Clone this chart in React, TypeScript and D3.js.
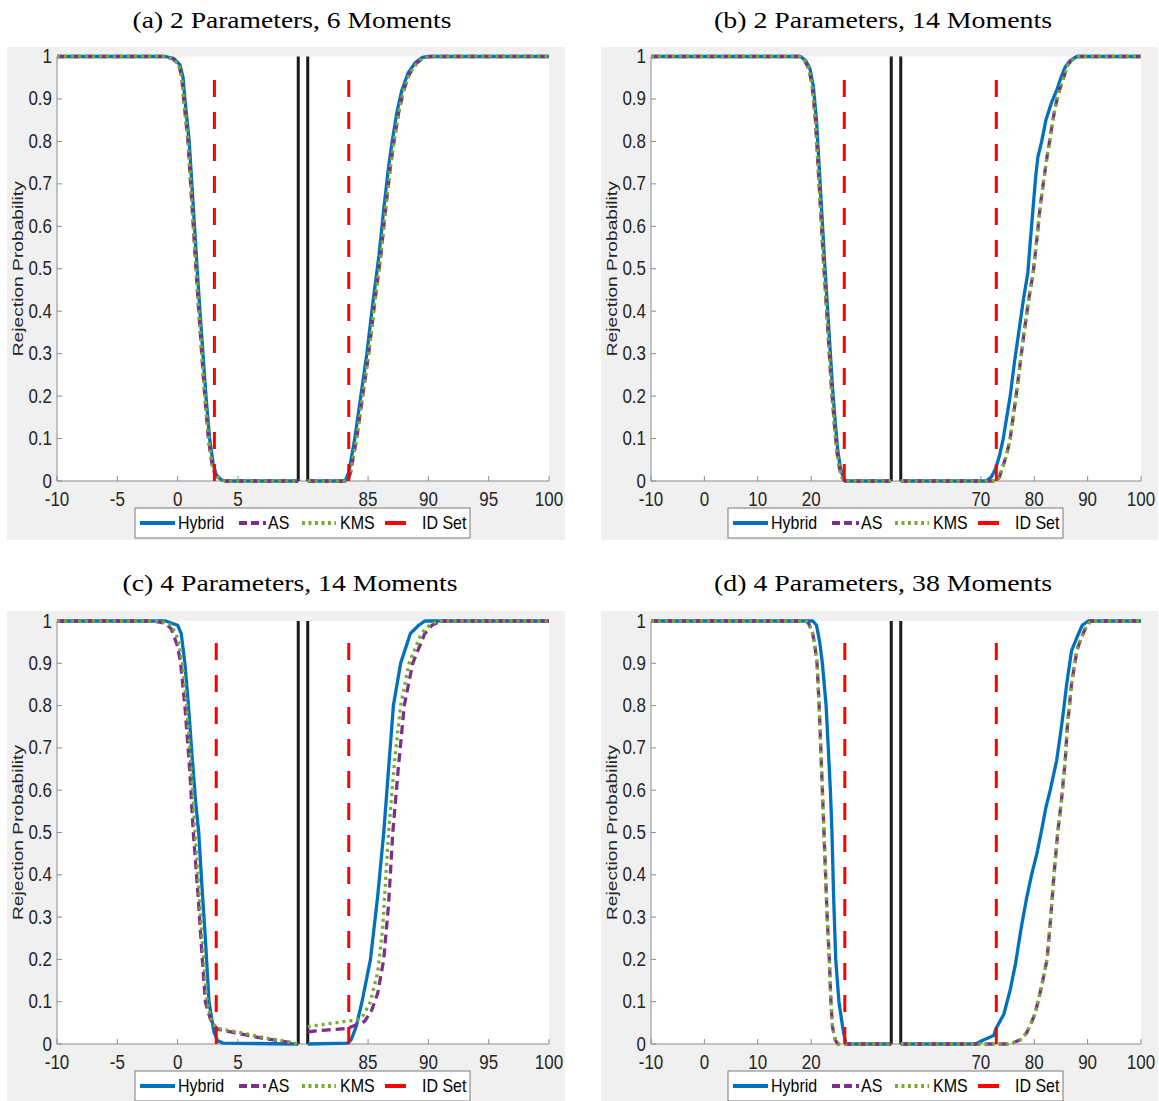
import React from 'react';
import * as d3 from 'd3';

type Pt = [number, number];

// ---------- text ----------
const TITLES = [
  '(a) 2 Parameters, 6 Moments',
  '(b) 2 Parameters, 14 Moments',
  '(c) 4 Parameters, 14 Moments',
  '(d) 4 Parameters, 38 Moments',
];
const Y_LABEL = 'Rejection Probability';
const SERIES_NAMES = ['Hybrid', 'AS', 'KMS', 'ID Set'];
const Y_TICKS = [0, 0.1, 0.2, 0.3, 0.4, 0.5, 0.6, 0.7, 0.8, 0.9, 1];

// ---------- broken x axes ----------
const DOMAIN_SMALL_LEFT: Pt = [-10, 10];
const DOMAIN_SMALL_RIGHT: Pt = [80, 100];
const TICKS_SMALL_LEFT = [-10, -5, 0, 5];
const TICKS_SMALL_RIGHT = [85, 90, 95, 100];

const DOMAIN_LARGE_LEFT: Pt = [-10, 35];
const DOMAIN_LARGE_RIGHT: Pt = [55, 100];
const TICKS_LARGE_LEFT = [-10, 0, 10, 20];
const TICKS_LARGE_RIGHT = [70, 80, 90, 100];

// ---------- identified set bounds ----------
const A_ID_SET = [3.05, 83.4];
const B_ID_SET = [26.2, 72.9];
const C_ID_SET = [3.2, 83.4];
const D_ID_SET = [26.3, 72.9];

// ---------- (a) 2 parameters, 6 moments ----------
const A_HYBRID: Pt[] = [[-10,1],[-1,1],[-0.3,0.995],[0.2,0.98],[0.45,0.95],[0.6,0.9],[0.96,0.8],[1.18,0.7],[1.4,0.6],[1.62,0.5],[1.85,0.4],[2.1,0.3],[2.35,0.2],[2.65,0.1],[2.95,0.04],[3.2,0.015],[3.6,0.003],[4,0],[10,0],
  [80,0],[83.1,0],[83.4,0.02],[83.9,0.1],[84.4,0.2],[84.9,0.3],[85.4,0.42],[85.9,0.53],[86.3,0.64],[86.7,0.74],[87.0,0.8],[87.4,0.87],[87.8,0.92],[88.3,0.96],[88.9,0.985],[89.5,0.998],[90,1],[100,1]];
const A_AS: Pt[] = [[-10,1],[-1.2,1],[-0.4,0.995],[0.1,0.98],[0.35,0.95],[0.5,0.9],[0.86,0.8],[1.08,0.7],[1.3,0.6],[1.52,0.5],[1.75,0.4],[2.0,0.3],[2.25,0.2],[2.55,0.1],[2.85,0.04],[3.1,0.015],[3.5,0.003],[4,0],[10,0],
  [80,0],[83.3,0],[83.55,0.02],[84.05,0.1],[84.55,0.2],[85.05,0.3],[85.55,0.42],[86.05,0.53],[86.45,0.64],[86.85,0.74],[87.15,0.8],[87.55,0.87],[87.95,0.92],[88.45,0.96],[89.05,0.985],[89.65,0.998],[90.2,1],[100,1]];
const A_KMS: Pt[] = [[-10,1],[-1.2,1],[-0.4,0.995],[0.1,0.98],[0.35,0.95],[0.5,0.9],[0.87,0.8],[1.09,0.7],[1.31,0.6],[1.53,0.5],[1.76,0.4],[2.01,0.3],[2.26,0.2],[2.56,0.1],[2.86,0.04],[3.1,0.015],[3.5,0.003],[4,0],[10,0],
  [80,0],[83.3,0],[83.55,0.02],[84.05,0.1],[84.55,0.2],[85.05,0.3],[85.55,0.42],[86.05,0.53],[86.45,0.64],[86.85,0.74],[87.15,0.8],[87.55,0.87],[87.95,0.92],[88.45,0.96],[89.05,0.985],[89.65,0.998],[90.2,1],[100,1]];

// ---------- (b) 2 parameters, 14 moments ----------
const B_HYBRID: Pt[] = [[-10,1],[18,1],[19,0.99],[19.8,0.97],[20.4,0.93],[21,0.85],[21.5,0.74],[22,0.63],[22.5,0.52],[23,0.42],[23.5,0.32],[24,0.22],[24.5,0.14],[25,0.07],[25.5,0.03],[26,0.008],[26.5,0],[35,0],
  [55,0],[71,0],[72,0.01],[72.8,0.03],[73.5,0.06],[74.2,0.1],[75.5,0.2],[76.3,0.28],[77.1,0.35],[78,0.43],[78.8,0.49],[79.3,0.57],[79.8,0.646],[80.3,0.72],[80.7,0.764],[81.4,0.8],[82.2,0.851],[83.2,0.89],[84.2,0.92],[85,0.95],[85.8,0.975],[86.7,0.99],[88,1],[100,1]];
const B_AS: Pt[] = [[-10,1],[17.8,1],[18.8,0.99],[19.6,0.97],[20.2,0.93],[20.8,0.85],[21.3,0.74],[21.8,0.63],[22.3,0.52],[22.8,0.42],[23.3,0.32],[23.8,0.22],[24.3,0.14],[24.8,0.07],[25.3,0.03],[25.8,0.008],[26.3,0],[35,0],
  [55,0],[73,0],[73.5,0.01],[74,0.03],[74.8,0.06],[75.5,0.1],[76.6,0.2],[77.3,0.27],[78.1,0.35],[79,0.43],[79.8,0.49],[80.5,0.57],[81.1,0.646],[81.8,0.71],[82.4,0.764],[83,0.81],[83.5,0.851],[84.1,0.89],[84.7,0.92],[85.5,0.95],[86.3,0.98],[86.9,0.99],[88,1],[100,1]];
const B_KMS: Pt[] = [[-10,1],[17.8,1],[18.8,0.99],[19.6,0.97],[20.2,0.93],[20.8,0.85],[21.3,0.74],[21.8,0.63],[22.3,0.52],[22.8,0.42],[23.3,0.32],[23.8,0.22],[24.3,0.14],[24.8,0.07],[25.3,0.03],[25.8,0.008],[26.3,0],[35,0],
  [55,0],[73,0],[73.5,0.01],[74,0.03],[74.8,0.06],[75.5,0.1],[76.6,0.2],[77.3,0.27],[78.1,0.35],[79,0.43],[79.8,0.49],[80.5,0.57],[81.1,0.646],[81.8,0.71],[82.4,0.764],[83,0.81],[83.5,0.851],[84.1,0.89],[84.7,0.92],[85.5,0.95],[86.3,0.98],[86.9,0.99],[88,1],[100,1]];

// ---------- (c) 4 parameters, 14 moments ----------
const C_HYBRID: Pt[] = [[-10,1],[-1,1],[0,0.99],[0.3,0.97],[0.6,0.9],[0.9,0.8],[1.2,0.68],[1.5,0.57],[1.75,0.5],[2.0,0.38],[2.3,0.25],[2.6,0.1],[3.0,0.03],[3.3,0.008],[3.8,0.002],[10,0],
  [80,0],[83.3,0.002],[83.6,0.01],[84.0,0.04],[84.5,0.1],[85.2,0.2],[85.8,0.35],[86.3,0.5],[86.7,0.65],[87.1,0.8],[87.7,0.9],[88.5,0.97],[89.2,0.99],[89.7,1],[100,1]];
const C_AS: Pt[] = [[-10,1],[-2,1],[-1,0.995],[-0.5,0.98],[0,0.94],[0.25,0.9],[0.6,0.8],[1.0,0.65],[1.3,0.5],[1.7,0.35],[2.0,0.22],[2.3,0.1],[2.7,0.06],[3.0,0.045],[3.3,0.035],[5,0.025],[7,0.014],[9,0.005],[10,0],
  [80,0.029],[81.5,0.033],[83.3,0.037],[84,0.045],[84.7,0.053],[85.3,0.08],[85.8,0.12],[86.3,0.2],[86.7,0.33],[87.05,0.5],[87.5,0.65],[88,0.8],[88.7,0.9],[89.7,0.97],[90.3,0.99],[91,1],[100,1]];
const C_KMS: Pt[] = [[-10,1],[-1.5,1],[-0.5,0.99],[0,0.96],[0.4,0.9],[0.75,0.8],[1.1,0.66],[1.45,0.5],[1.8,0.35],[2.1,0.22],[2.45,0.1],[2.8,0.055],[3.1,0.042],[3.3,0.037],[5,0.028],[7,0.016],[9,0.006],[10,0],
  [80,0.041],[82,0.049],[84.1,0.057],[84.6,0.068],[85.2,0.1],[85.8,0.17],[86.2,0.27],[86.7,0.5],[87.2,0.67],[87.7,0.8],[88.4,0.9],[89.4,0.97],[90.1,0.99],[90.8,1],[100,1]];

// ---------- (d) 4 parameters, 38 moments ----------
const D_HYBRID: Pt[] = [[-10,1],[20.3,1],[21,0.99],[21.6,0.95],[22.1,0.9],[22.8,0.8],[23.2,0.7],[23.6,0.6],[23.9,0.5],[24.2,0.35],[24.6,0.2],[25.2,0.1],[25.9,0.04],[26.5,0],[35,0],
  [55,0],[69,0],[70.6,0.01],[72.4,0.02],[72.9,0.038],[74.3,0.07],[75.5,0.128],[76.5,0.19],[77.5,0.27],[78.5,0.34],[79.5,0.4],[80.5,0.45],[81.3,0.5],[82.2,0.56],[83,0.6],[84.2,0.67],[85.1,0.75],[85.6,0.8],[86.1,0.853],[87,0.93],[88.3,0.97],[89,0.99],[90.1,1],[100,1]];
const D_AS: Pt[] = [[-10,1],[19,1],[19.5,0.995],[20.3,0.97],[20.7,0.94],[21.1,0.9],[21.5,0.8],[21.8,0.7],[22.1,0.6],[22.4,0.5],[22.7,0.4],[23,0.3],[23.4,0.2],[23.7,0.1],[24,0.04],[24.5,0.01],[25,0],[35,0],
  [55,0],[75.5,0],[77.4,0.01],[78.5,0.025],[79.3,0.045],[80.1,0.07],[80.8,0.104],[81.6,0.15],[82.4,0.2],[83.1,0.3],[83.7,0.4],[84.4,0.5],[85.1,0.576],[85.8,0.67],[86.2,0.75],[86.6,0.8],[87,0.853],[88,0.93],[88.8,0.96],[89.5,0.98],[90.5,1],[100,1]];
const D_KMS: Pt[] = [[-10,1],[19,1],[19.5,0.995],[20.3,0.97],[20.7,0.94],[21.1,0.9],[21.5,0.8],[21.8,0.7],[22.1,0.6],[22.4,0.5],[22.7,0.4],[23,0.3],[23.4,0.2],[23.7,0.1],[24,0.04],[24.5,0.01],[25,0],[35,0],
  [55,0],[75.5,0],[77.4,0.01],[78.5,0.025],[79.3,0.045],[80.1,0.07],[80.8,0.104],[81.6,0.15],[82.4,0.2],[83.1,0.3],[83.7,0.4],[84.4,0.5],[85.1,0.576],[85.8,0.67],[86.2,0.75],[86.6,0.8],[87,0.853],[88,0.93],[88.8,0.96],[89.5,0.98],[90.5,1],[100,1]];

// ---------- styles ----------
const COLORS = { hybrid: '#0072BD', as: '#7E2F8E', kms: '#77AC30', id: '#FF0000', brk: '#1a1a1a' };
const SANS = '"Liberation Sans", Arial, Helvetica, sans-serif';
const SERIF = '"Liberation Serif", "Times New Roman", serif';
const YSTRETCH = 1.15;

interface PanelSpec {
  title: string;
  titleX: number; titleY: number; titleLen: number;
  bg: [number, number, number, number];
  left: number; right: number; top: number; bottom: number;
  domL: Pt; domR: Pt; ticksL: number[]; ticksR: number[];
  hybrid: Pt[]; as: Pt[]; kms: Pt[]; idSet: number[];
  legendX: number; legendY: number;
}

const PANELS: PanelSpec[] = [
  { title: TITLES[0], titleX: 292, titleY: 28, titleLen: 319, bg: [7, 47, 558, 493], left: 57, right: 549, top: 56.5, bottom: 481,
    domL: DOMAIN_SMALL_LEFT, domR: DOMAIN_SMALL_RIGHT, ticksL: TICKS_SMALL_LEFT, ticksR: TICKS_SMALL_RIGHT,
    hybrid: A_HYBRID, as: A_AS, kms: A_KMS, idSet: A_ID_SET, legendX: 135, legendY: 508 },
  { title: TITLES[1], titleX: 883, titleY: 28, titleLen: 338, bg: [601, 47, 557, 493], left: 651, right: 1141, top: 56.5, bottom: 481,
    domL: DOMAIN_LARGE_LEFT, domR: DOMAIN_LARGE_RIGHT, ticksL: TICKS_LARGE_LEFT, ticksR: TICKS_LARGE_RIGHT,
    hybrid: B_HYBRID, as: B_AS, kms: B_KMS, idSet: B_ID_SET, legendX: 728, legendY: 508 },
  { title: TITLES[2], titleX: 290, titleY: 591, titleLen: 335, bg: [7, 611, 558, 490], left: 57, right: 549, top: 621, bottom: 1044,
    domL: DOMAIN_SMALL_LEFT, domR: DOMAIN_SMALL_RIGHT, ticksL: TICKS_SMALL_LEFT, ticksR: TICKS_SMALL_RIGHT,
    hybrid: C_HYBRID, as: C_AS, kms: C_KMS, idSet: C_ID_SET, legendX: 135, legendY: 1071 },
  { title: TITLES[3], titleX: 883, titleY: 591, titleLen: 338, bg: [601, 611, 557, 490], left: 651, right: 1141, top: 621, bottom: 1044,
    domL: DOMAIN_LARGE_LEFT, domR: DOMAIN_LARGE_RIGHT, ticksL: TICKS_LARGE_LEFT, ticksR: TICKS_LARGE_RIGHT,
    hybrid: D_HYBRID, as: D_AS, kms: D_KMS, idSet: D_ID_SET, legendX: 728, legendY: 1071 },
];

const GAP = 9.5;

function STxt(props: { x: number; y: number; anchor?: string; size: number; children: React.ReactNode; fill?: string }) {
  return (
    <g transform={`translate(${props.x},${props.y}) scale(1,${YSTRETCH})`}>
      <text x={0} y={0} textAnchor={props.anchor || 'start'} fontFamily={SANS} fontSize={props.size} fill={props.fill || '#262626'}>
        {props.children}
      </text>
    </g>
  );
}

function Panel({ p }: { p: PanelSpec }) {
  const segW = (p.right - p.left - GAP) / 2;
  const xL = d3.scaleLinear().domain(p.domL).range([p.left, p.left + segW]);
  const xR = d3.scaleLinear().domain(p.domR).range([p.right - segW, p.right]);
  const y = d3.scaleLinear().domain([0, 1]).range([p.bottom, p.top]);
  const xAny = (v: number) => (v <= p.domL[1] ? xL(v) : xR(v));

  const segPaths = (data: Pt[]) => {
    const lineL = d3.line<Pt>().x(d => xL(d[0])).y(d => y(d[1]));
    const lineR = d3.line<Pt>().x(d => xR(d[0])).y(d => y(d[1]));
    return [
      lineL(data.filter(d => d[0] >= p.domL[0] && d[0] <= p.domL[1])) || '',
      lineR(data.filter(d => d[0] >= p.domR[0] && d[0] <= p.domR[1])) || '',
    ];
  };

  const series = [
    { data: p.hybrid, color: COLORS.hybrid, dash: undefined as string | undefined },
    { data: p.as, color: COLORS.as, dash: '9,5' },
    { data: p.kms, color: COLORS.kms, dash: '3,4' },
  ];

  const [bx, by, bw, bh] = p.bg;
  const axisColor = '#8c8c8c';
  const brkL = xL(p.domL[1]);
  const brkR = xR(p.domR[0]);
  const lx = p.legendX, ly = p.legendY;
  const lcy = ly + 15;

  return (
    <g>
      <rect x={bx} y={by} width={bw} height={bh} fill="#f0f0f0" />
      <rect x={p.left} y={p.top} width={p.right - p.left} height={p.bottom - p.top} fill="#ffffff" />
      <g transform={`translate(${p.titleX},${p.titleY}) scale(1,1.1)`}>
        <text x={0} y={0} textAnchor="middle" fontFamily={SERIF} fontSize={21} fill="#000" textLength={p.titleLen} lengthAdjust="spacingAndGlyphs">{p.title}</text>
      </g>

      {/* axes */}
      <line x1={p.left} x2={p.left} y1={p.top} y2={p.bottom} stroke={axisColor} strokeWidth={1} />
      <line x1={p.left} x2={p.right} y1={p.bottom} y2={p.bottom} stroke={axisColor} strokeWidth={1} />
      {Y_TICKS.map(t => (
        <g key={'y' + t}>
          <line x1={p.left} x2={p.left + 5} y1={y(t)} y2={y(t)} stroke={axisColor} />
          <STxt x={p.left - 5} y={y(t) + 6.5} anchor="end" size={17}>{String(t)}</STxt>
        </g>
      ))}
      {p.ticksL.map(t => (
        <g key={'xl' + t}>
          <line x1={xL(t)} x2={xL(t)} y1={p.bottom} y2={p.bottom - 5} stroke={axisColor} />
          <STxt x={xL(t)} y={p.bottom + 25} anchor="middle" size={17}>{String(t)}</STxt>
        </g>
      ))}
      {p.ticksR.map(t => (
        <g key={'xr' + t}>
          <line x1={xR(t)} x2={xR(t)} y1={p.bottom} y2={p.bottom - 5} stroke={axisColor} />
          <STxt x={xR(t)} y={p.bottom + 25} anchor="middle" size={17}>{String(t)}</STxt>
        </g>
      ))}
      <text transform={`translate(${p.left - 34},${(p.top + p.bottom) / 2}) rotate(-90)`} textAnchor="middle" fontFamily={SANS} fontSize={15} fill="#262626" textLength={175} lengthAdjust="spacingAndGlyphs">{Y_LABEL}</text>

      {/* break markers */}
      <line x1={brkL} x2={brkL} y1={y(0)} y2={y(1)} stroke={COLORS.brk} strokeWidth={3} />
      <line x1={brkR} x2={brkR} y1={y(0)} y2={y(1)} stroke={COLORS.brk} strokeWidth={3} />

      {/* series */}
      {series.map((s, i) => segPaths(s.data).map((d, j) => (
        <path key={i + '-' + j} d={d} fill="none" stroke={s.color} strokeWidth={3.3} strokeDasharray={s.dash} strokeLinejoin="round" />
      )))}

      {/* identified set */}
      {p.idSet.map((v, i) => (
        <line key={'id' + i} x1={xAny(v)} x2={xAny(v)} y1={y(0)} y2={y(0.97)} stroke={COLORS.id} strokeWidth={3} strokeDasharray="17,15" />
      ))}

      {/* legend */}
      <rect x={lx} y={ly} width={335} height={30} fill="#ffffff" stroke="#7a7a7a" strokeWidth={1} />
      <line x1={lx + 5} x2={lx + 40} y1={lcy} y2={lcy} stroke={COLORS.hybrid} strokeWidth={4} />
      <STxt x={lx + 43} y={lcy + 6} size={16} fill="#000">{SERIES_NAMES[0]}</STxt>
      <line x1={lx + 104} x2={lx + 131} y1={lcy} y2={lcy} stroke={COLORS.as} strokeWidth={4} strokeDasharray="8,4" />
      <STxt x={lx + 133} y={lcy + 6} size={16} fill="#000">{SERIES_NAMES[1]}</STxt>
      <line x1={lx + 167} x2={lx + 201} y1={lcy} y2={lcy} stroke={COLORS.kms} strokeWidth={4} strokeDasharray="3,3.5" />
      <STxt x={lx + 205} y={lcy + 6} size={16} fill="#000">{SERIES_NAMES[2]}</STxt>
      <line x1={lx + 250} x2={lx + 271} y1={lcy} y2={lcy} stroke={COLORS.id} strokeWidth={4} />
      <STxt x={lx + 287} y={lcy + 6} size={16} fill="#000">{SERIES_NAMES[3]}</STxt>
    </g>
  );
}

export default function App() {
  return (
    <svg width={1159} height={1101} style={{ position: 'absolute', left: 0, top: 0, display: 'block', background: '#fff' }}>
      {PANELS.map((p, i) => <Panel key={i} p={p} />)}
    </svg>
  );
}
